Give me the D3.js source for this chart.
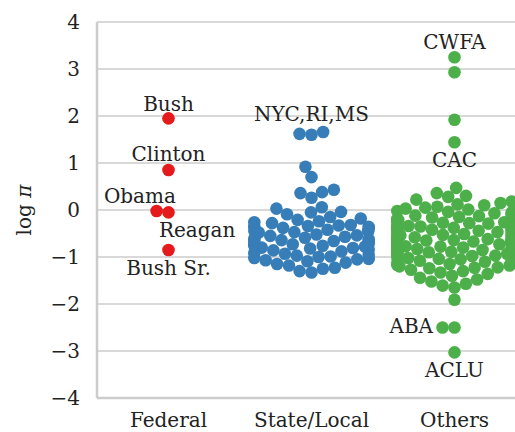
<!DOCTYPE html>
<html>
<head>
<meta charset="utf-8">
<script src="https://cdn.jsdelivr.net/npm/d3@7"></script>
<style>
  body { margin: 0; background: #fff; }
  text { font-family: "DejaVu Serif", serif; fill: #222; }
</style>
</head>
<body>
<script>
const categories = ['Federal', 'State/Local', 'Others'];
const colors = ['#e41a1c', '#377eb8', '#4daf4a'];

const federal = [1.95, 0.85, -0.02, -0.05, -0.85];

const stateLocal = [
  1.62, 1.60, 1.66,
  0.92, 0.70,
  0.43, 0.38, 0.36, 0.26,
  0.06, 0.03,
  -0.04, -0.05, -0.09,
  -0.15, -0.21, -0.24, -0.26, -0.28, -0.18,
  -0.32, -0.34, -0.36, -0.38, -0.40, -0.42, -0.44, -0.45, -0.47, -0.48, -0.36, -0.33,
  -0.52, -0.54, -0.55, -0.57, -0.59, -0.61, -0.62, -0.64, -0.66, -0.68, -0.69, -0.63,
  -0.71, -0.73, -0.74, -0.76, -0.78, -0.80, -0.82, -0.84, -0.86, -0.88, -0.75, -0.81,
  -0.91, -0.93, -0.95, -0.97, -1.00, -1.02, -1.05, -1.07, -1.09, -0.99, -1.04,
  -1.12, -1.15, -1.18, -1.23, -1.25,
  -1.30, -1.33
];

const others = [
  3.25, 2.93, 1.92, 1.44,
  0.47,
  0.36, 0.28, 0.30, 0.22,
  0.18, 0.15, 0.12, 0.10, 0.07, 0.05, 0.03, 0.01,
  -0.02, -0.04, -0.05, -0.07, -0.09, -0.10, -0.12, -0.13, -0.15, -0.16, -0.18, -0.19, -0.21, -0.22, -0.23, -0.24,
  -0.26, -0.27, -0.28, -0.29, -0.30, -0.31, -0.32, -0.33, -0.34, -0.35, -0.36, -0.37, -0.38, -0.39, -0.40, -0.41, -0.42, -0.43, -0.44, -0.46, -0.47, -0.49,
  -0.51, -0.52, -0.53, -0.54, -0.55, -0.56, -0.57, -0.58, -0.59, -0.60, -0.61, -0.62, -0.63, -0.64, -0.65, -0.66, -0.67, -0.68, -0.69, -0.70, -0.71, -0.72, -0.73, -0.74,
  -0.76, -0.77, -0.78, -0.79, -0.80, -0.81, -0.82, -0.83, -0.84, -0.85, -0.86, -0.87, -0.88, -0.89, -0.90, -0.91, -0.92, -0.93, -0.95, -0.96, -0.97, -0.98,
  -1.01, -1.02, -1.04, -1.05, -1.07, -1.08, -1.10, -1.12, -1.13, -1.15, -1.17, -1.18, -1.20, -1.22, -1.23, -1.24,
  -1.27, -1.30, -1.33, -1.36, -1.40, -1.44, -1.48,
  -1.52, -1.57, -1.61, -1.65,
  -1.91, -2.50, -2.50, -3.03
];

const yTicks = [4, 3, 2, 1, 0, -1, -2, -3, -4];

// annotations: text, category index, offset in category units, y in data units, anchor
const notes = [
  ['Bush', 0, 0, 2.11, 'middle'],
  ['Clinton', 0, 0, 1.04, 'middle'],
  ['Obama', 0, -0.2, 0.15, 'middle'],
  ['Reagan', 0, 0.2, -0.57, 'middle'],
  ['Bush Sr.', 0, 0, -1.38, 'middle'],
  ['NYC,RI,MS', 1, 0, 1.89, 'middle'],
  ['CWFA', 2, 0, 3.43, 'middle'],
  ['CAC', 2, 0, 0.91, 'middle'],
  ['ABA', 2, -0.15, -2.62, 'end'],
  ['ACLU', 2, 0, -3.55, 'middle']
];

const W = 515, H = 432;
const margin = { top: 22, left: 97, bottom: 34 };
const plotW = 429;
const plotH = H - margin.top - margin.bottom;
const r = 6.3, dist = 12;
const fs = '20px';

const svg = d3.select('body').append('svg')
  .attr('width', W).attr('height', H);

const g = svg.append('g')
  .attr('transform', `translate(${margin.left},${margin.top})`);

const x = d3.scaleBand().domain(categories).range([0, plotW]);
const y = d3.scaleLinear().domain([-4, 4]).range([plotH, 0]);

// grid
g.selectAll('.grid').data(yTicks).enter().append('line')
  .attr('x1', 0).attr('x2', plotW)
  .attr('y1', d => y(d)).attr('y2', d => y(d))
  .attr('stroke', '#cccccc').attr('stroke-width', 1.6);

// spines
g.append('line').attr('x1', 0).attr('x2', 0).attr('y1', 0).attr('y2', plotH)
  .attr('stroke', '#cccccc').attr('stroke-width', 2.5);
g.append('line').attr('x1', 0).attr('x2', plotW).attr('y1', plotH).attr('y2', plotH)
  .attr('stroke', '#cccccc').attr('stroke-width', 2.5);

// y axis
const yAxis = g.append('g')
  .call(d3.axisLeft(y).tickValues(yTicks).tickSize(0).tickPadding(17)
    .tickFormat(d => d < 0 ? '\u2212' + Math.abs(d) : String(d)));
yAxis.select('.domain').remove();
yAxis.selectAll('text').style('font-size', fs).style('font-family', '"DejaVu Serif", serif').attr('fill', '#222');

// x axis
const xAxis = g.append('g').attr('transform', `translate(0,${plotH})`)
  .call(d3.axisBottom(x).tickSize(0).tickPadding(15));
xAxis.select('.domain').remove();
xAxis.selectAll('text').style('font-size', fs).style('font-family', '"DejaVu Serif", serif').attr('fill', '#222');

svg.append('text')
  .attr('transform', `translate(31,${margin.top + y(0)}) rotate(-90)`)
  .attr('text-anchor', 'middle')
  .style('font-size', fs)
  .html('log <tspan font-style="italic">\u03c0</tspan>');

// beeswarm placement like seaborn
function swarm(values, cx, half) {
  const pts = values.map(v => ({ v, py: y(v) }));
  const order = pts.slice().sort((a, b) => b.py - a.py);
  const placed = [];
  order.forEach(p => {
    const near = placed.filter(q => Math.abs(q.py - p.py) < dist);
    const cands = [0];
    near.forEach(q => {
      const off = Math.sqrt(dist * dist - (q.py - p.py) ** 2);
      cands.push(q.dx - off, q.dx + off);
    });
    cands.sort((a, b) => Math.abs(a) - Math.abs(b));
    let best = cands[cands.length - 1];
    for (const c of cands) {
      const ok = near.every(q => (q.dx - c) ** 2 + (q.py - p.py) ** 2 >= dist * dist - 0.01);
      if (ok) { best = c; break; }
    }
    p.dx = best;
    placed.push(p);
  });
  pts.forEach(p => {
    p.px = cx + Math.max(-half, Math.min(half, p.dx));
  });
  return pts;
}

[federal, stateLocal, others].forEach((vals, i) => {
  const cx = x(categories[i]) + x.bandwidth() / 2;
  const pts = swarm(vals, cx, x.bandwidth() * 0.4);
  g.append('g').selectAll('circle').data(pts).enter().append('circle')
    .attr('cx', d => d.px).attr('cy', d => d.py).attr('r', r)
    .attr('fill', colors[i]);
});

g.selectAll('.note').data(notes).enter().append('text')
  .attr('x', d => x(categories[d[1]]) + x.bandwidth() * (0.5 + d[2]))
  .attr('y', d => y(d[3]))
  .attr('text-anchor', d => d[4])
  .style('font-size', fs)
  .text(d => d[0]);
</script>
</body>
</html>
